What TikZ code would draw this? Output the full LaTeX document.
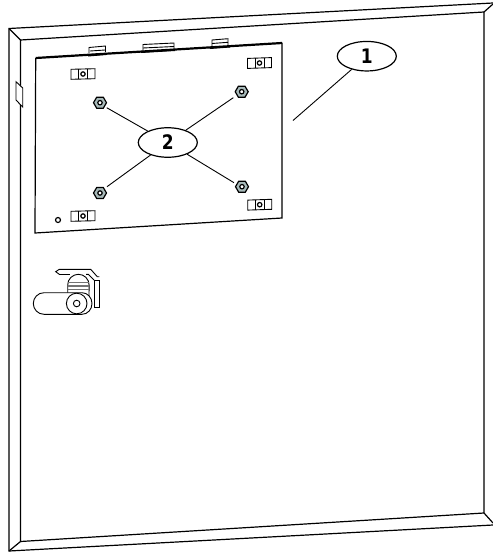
\documentclass[tikz,border=0pt]{standalone}
\usepackage{graphicx}
\usepackage{fontspec}
\setmainfont{DejaVu Sans}
\definecolor{nutfill}{HTML}{A8BABA}
\usetikzlibrary{shapes.geometric}
\tikzset{
  x=1pt,y=-1pt,
  frameline/.style={line width=1.2pt,black},
  thin line/.style={line width=0.9pt,black},
  callout/.style={draw=black,line width=1.2pt,fill=white,ellipse,inner sep=0pt,minimum width=59pt,minimum height=29.5pt,font=\bfseries\fontsize{20}{20}\selectfont},
  leader/.style={line width=0.9pt,black},
  hole/.style={draw=black,line width=1.2pt,fill=white,circle,inner sep=0pt,minimum size=4.5pt},
  nutshape/.style={draw=black,line width=1.2pt,fill=nutfill},
  slot/.style={line width=0.9pt,black,fill=white},
}
\newcommand{\slotat}[3]{% x, y, tilt
  \draw[slot] (#1-12,#2-5+#3) -- (#1+12,#2-5-#3) -- (#1+12,#2+5-#3) -- (#1-12,#2+5+#3) -- cycle;
  \draw[slot] (#1-4.5,#2-5+#3*0.4) -- (#1-4.5,#2+5+#3*0.4);
  \draw[slot] (#1+4.5,#2-5-#3*0.4) -- (#1+4.5,#2+5-#3*0.4);
  \node[hole,minimum size=4.4pt] at (#1,#2) {};
}
\newcommand{\nutat}[2]{%
  \draw[nutshape] (#1-6.5,#2) -- (#1-3.3,#2-5.5) -- (#1+3.3,#2-5.5) -- (#1+6.5,#2) -- (#1+3.3,#2+5.5) -- (#1-3.3,#2+5.5) -- cycle;
  \node[hole,minimum size=4.4pt] at (#1,#2) {};
}
\begin{document}
\begin{tikzpicture}
\useasboundingbox (0,0) rectangle (493,552);
% door
\draw[frameline] (493,3) -- (9,28.5) -- (9,551) -- (493,525);
\draw[frameline] (484,12) -- (20.5,40) -- (20.5,541.5) -- (484,513) -- cycle;
\draw[frameline] (9,28.5) -- (20.5,40);
\draw[frameline] (9,551) -- (20.5,541.5);
\draw[frameline] (484,12) -- (493,4);
\draw[frameline] (484,513) -- (493,523);
% side tab
\draw[thin line,fill=white] (16,81.7) -- (22.7,88) -- (22.7,107) -- (16,100) -- cycle;
% top tabs
\draw[thin line] (89,53) -- (89,47.5) -- (105.5,46) -- (105.5,52);
\draw[thin line] (90,51) -- (105,50);
\draw[thin line] (143,51) -- (143,44.5) -- (174,43) -- (174,50);
\draw[thin line] (143,48) -- (174,46.5);
\draw[thin line] (212,48) -- (212,40) -- (228,38.7) -- (228,47);
\draw[thin line] (212,43.5) -- (228,42.3);
% plate
\draw[line width=1.2pt] (35.7,58) -- (35,233) -- (282,218) -- (282,42.7);
\draw[line width=2.2pt] (35.7,58) -- (282,43);
\draw[line width=1pt] (88,56) -- (106,54.5);
\draw[line width=1pt] (141,52.5) -- (175,50.5);
\draw[line width=1pt] (210,48.5) -- (230,47);
% slots
\slotat{83}{74}{0.3}
\slotat{259.5}{63}{0.4}
\slotat{83}{216}{0.3}
\slotat{259.7}{204.7}{0.4}
\node[hole,minimum size=5pt] (smallhole) at (58,220) {};
% nuts
\nutat{100}{102.7}
\nutat{241.7}{91.7}
\nutat{100}{193}
\nutat{242}{186.7}
% callouts
\coordinate (a1) at (293,120.5);
\coordinate (n1) at (106.7,107.7);
\coordinate (n2) at (233.3,97.7);
\coordinate (n3) at (107,186.7);
\coordinate (n4) at (234,182.7);
\node[callout] (c2) at (167.8,142.5) {\scalebox{0.85}[1]{2}};
\node[callout] (c1) at (366.8,56.2) {\scalebox{0.85}[1]{1}};
\draw[leader] (c2) -- (n1);
\draw[leader] (c2) -- (n2);
\draw[leader] (c2) -- (n3);
\draw[leader] (c2) -- (n4);
\draw[leader] (a1) -- (c1);
% latch
\draw[thin line,fill=white] (94,280) rectangle (99.3,307.7);
\draw[thin line] (59.3,274.3) -- (55.7,271.7) -- (59.3,269.3) -- (90.7,269.3) -- (97.3,276.7) -- (99.3,276.7);
\draw[thin line] (59.3,274.3) -- (70,274.3);
\draw[thin line] (86,274.3) -- (88.3,274.3) -- (94,280);
\draw[thin line,fill=white] (67.7,297) -- (67.7,285) arc[start angle=180,end angle=360,x radius=10.7,y radius=10.7] -- (89,297);
\fill[black!55] (68.2,281.5) rectangle (88.5,283.3);
\fill[black!55] (68.2,285) rectangle (88.5,286.8);
\fill[black!55] (68.2,288.5) rectangle (88.5,290.3);
\draw[thin line,fill=white] (82,292.7) -- (44,292.7) arc[start angle=270,end angle=90,x radius=10.7,y radius=10.8] -- (82,314.3) arc[start angle=90,end angle=-90,x radius=10,y radius=10.8] -- cycle;
\draw[thin line,fill=white] (76.7,303.5) circle[radius=10.3];
\draw[thin line] (76.7,303.5) circle[radius=3.3];
\end{tikzpicture}
\end{document}
